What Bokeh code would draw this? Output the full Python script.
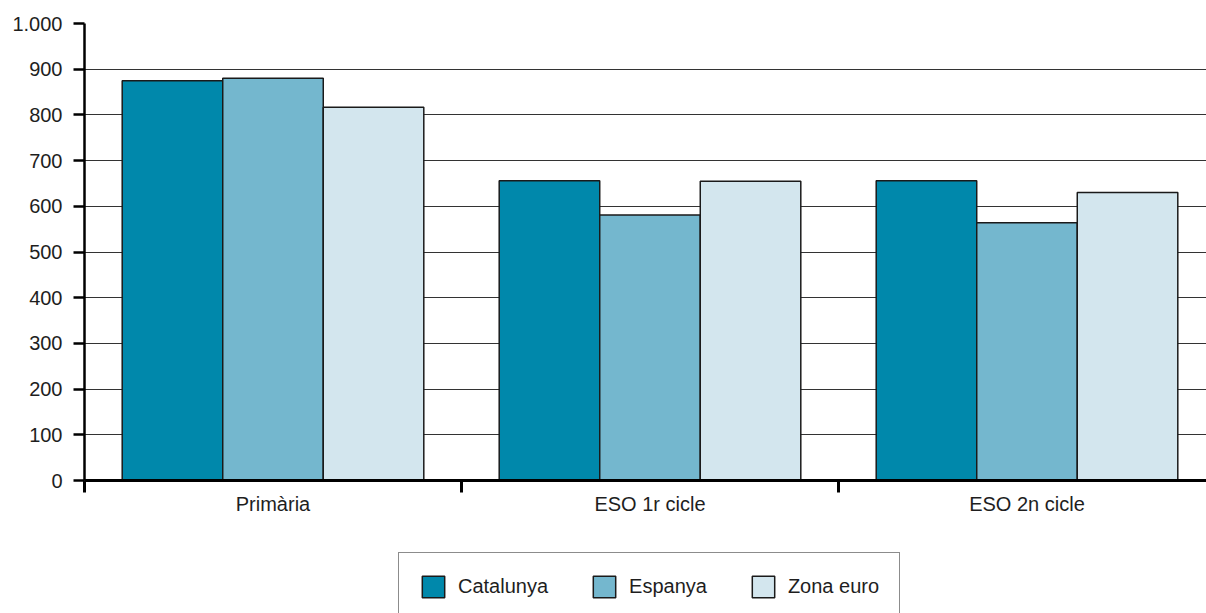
from bokeh.plotting import figure
from bokeh.models import FixedTicker, Legend, LegendItem, Range1d
from bokeh.layouts import column
from bokeh.embed import file_html
from bokeh.resources import INLINE

categories = ["Primària", "ESO 1r cicle", "ESO 2n cicle"]
series = ["Catalunya", "Espanya", "Zona euro"]
catalunya = [875, 656, 656]
espanya = [880, 581, 564]
zona_euro = [817, 655, 630]
y_ticks = [0, 100, 200, 300, 400, 500, 600, 700, 800, 900, 1000]
y_tick_labels = ["0", "100", "200", "300", "400", "500", "600", "700", "800", "900", "1.000"]
colors = ["#0088ab", "#74b7ce", "#d3e6ee"]

FONT = "Liberation Sans"
TXT = "#1e1e1e"
W = 1206

p = figure(width=W, height=530,
           x_range=Range1d(0, 1122 / 377), y_range=Range1d(0, 1000),
           output_backend="svg", toolbar_location=None,
           min_border_left=84, min_border_right=0,
           min_border_top=23, min_border_bottom=50)
p.outline_line_color = None

n = len(categories)
bar_w = 0.8 / len(series)
all_vals = [catalunya, espanya, zona_euro]
for k, (vals, col) in enumerate(zip(all_vals, colors)):
    xs = [i + 0.5 + (k - 1) * bar_w for i in range(n)]
    p.vbar(x=xs, top=vals, width=bar_w, bottom=0,
           fill_color=col, line_color="#1a1a1a", line_width=1.5)

# x axis
p.xaxis.ticker = FixedTicker(ticks=[i + 0.5 for i in range(n)], minor_ticks=list(range(n + 1)))
p.xaxis.major_label_overrides = {i + 0.5: c for i, c in enumerate(categories)}
p.xaxis.major_tick_out = 0
p.xaxis.major_tick_in = 0
p.xaxis.minor_tick_out = 12
p.xaxis.minor_tick_in = 0
p.xaxis.minor_tick_line_width = 3
p.xaxis.minor_tick_line_color = "black"
p.xaxis.axis_line_width = 3
p.xaxis.axis_line_color = "black"
p.xaxis.major_label_standoff = 0
p.xaxis.major_label_text_font = FONT
p.xaxis.major_label_text_font_size = "20px"
p.xaxis.major_label_text_color = TXT
p.xgrid.grid_line_color = None

# y axis
p.yaxis.ticker = FixedTicker(ticks=y_ticks, minor_ticks=[])
p.yaxis.major_label_overrides = {t: l for t, l in zip(y_ticks, y_tick_labels)}
p.yaxis.major_tick_out = 11
p.yaxis.major_tick_in = 0
p.yaxis.major_tick_line_width = 2.5
p.yaxis.major_tick_line_color = "black"
p.yaxis.axis_line_width = 2.5
p.yaxis.axis_line_color = "black"
p.yaxis.major_label_standoff = 11
p.yaxis.major_label_text_font = FONT
p.yaxis.major_label_text_font_size = "20px"
p.yaxis.major_label_text_color = TXT
p.ygrid.ticker = FixedTicker(ticks=y_ticks)
p.ygrid.grid_line_color = "#333333"
p.ygrid.grid_line_width = 1.2

# legend panel (hidden copies of the series so the legend can draw swatches)
lg = figure(width=W, height=613 - 530, x_range=Range1d(0, 1), y_range=Range1d(0, 1),
            output_backend="svg", toolbar_location=None,
            x_axis_type=None, y_axis_type=None,
            min_border_left=0, min_border_right=0, min_border_top=0, min_border_bottom=0)
lg.outline_line_color = None
lg.grid.grid_line_color = None
items = []
for k, (s, vals, col) in enumerate(zip(series, all_vals, colors)):
    xs = [i + 0.5 + (k - 1) * bar_w for i in range(n)]
    r = lg.vbar(x=xs, top=vals, width=bar_w, fill_color=col,
                line_color="#1a1a1a", line_width=1.5, visible=False)
    items.append(LegendItem(label=s, renderers=[r]))

legend = Legend(items=items, orientation="horizontal", location=(314, -8),
                glyph_width=28, glyph_height=27, label_standoff=11,
                spacing=42, padding=20, margin=0,
                border_line_color="#1a1a1a", border_line_width=1.2,
                background_fill_color="white", background_fill_alpha=1,
                inactive_fill_alpha=0,
                label_text_font=FONT, label_text_font_size="20px",
                label_text_color=TXT)
lg.add_layout(legend)

layout = column(p, lg, spacing=0)
open("out.html", "w").write(file_html(layout, INLINE))
